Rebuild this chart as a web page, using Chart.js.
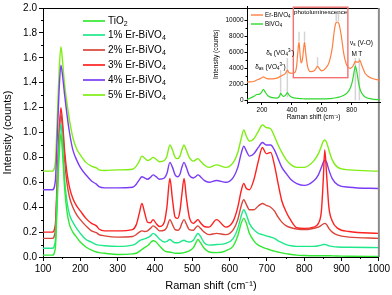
<!DOCTYPE html>
<html>
<head>
<meta charset="utf-8">
<script src="https://cdn.jsdelivr.net/npm/chart.js@4.4.0/dist/chart.umd.min.js"></script>
<style>
  body { margin: 0; background: #fff; }
  #wrap { position: relative; width: 392px; height: 295px; }
  #main { position: absolute; left: 0; top: 0; }
  #inset { position: absolute; left: 200px; top: 0; }
</style>
</head>
<body>
<div id="wrap">
  <canvas id="main" width="392" height="295"></canvas>
  <canvas id="inset" width="192" height="122"></canvas>
</div>
<script>
// ---- main plot data (Raman shift, cm-1) ----
const ramanShift = [100, 125, 133, 138, 143, 148, 153, 158, 164, 171, 180, 190, 200, 215, 230, 243, 250, 265, 300, 340,
  350, 358, 365, 372, 380, 388, 395, 403, 412, 425, 432, 440, 447, 454, 461, 467, 472, 478, 484, 492,
  503, 509, 515, 522, 532, 545, 565, 590, 610, 622, 631, 638, 645, 653, 665, 677, 688, 698, 710, 720,
  730, 740, 752, 765, 780, 800, 825, 838, 846, 851, 855, 860, 866, 875, 890, 920, 1000];

const tio2 = [0.015, 0.015, 0.07, 0.42, 0.80, 0.99, 0.80, 0.55, 0.37, 0.26, 0.20, 0.16, 0.12, 0.08, 0.055, 0.04, 0.035, 0.03, 0.02, 0.025,
  0.03, 0.045, 0.06, 0.075, 0.09, 0.115, 0.13, 0.12, 0.09, 0.05, 0.042, 0.04, 0.035, 0.03, 0.03, 0.03, 0.032, 0.035, 0.04, 0.05,
  0.075, 0.11, 0.14, 0.115, 0.07, 0.04, 0.035, 0.05, 0.09, 0.17, 0.27, 0.31, 0.27, 0.19, 0.13, 0.095, 0.08, 0.068, 0.055, 0.047,
  0.04, 0.033, 0.027, 0.02, 0.015, 0.012, 0.01, 0.01, 0.01, 0.01, 0.01, 0.01, 0.01, 0.009, 0.008, 0.006, 0.005];
const er1 = [0.07, 0.07, 0.13, 0.50, 0.88, 1.07, 0.88, 0.62, 0.45, 0.34, 0.28, 0.23, 0.19, 0.14, 0.12, 0.10, 0.095, 0.09, 0.085, 0.095,
  0.11, 0.13, 0.14, 0.145, 0.155, 0.17, 0.19, 0.175, 0.145, 0.12, 0.125, 0.14, 0.125, 0.115, 0.115, 0.12, 0.13, 0.135, 0.125, 0.12,
  0.135, 0.165, 0.19, 0.165, 0.115, 0.095, 0.10, 0.11, 0.15, 0.23, 0.33, 0.38, 0.34, 0.27, 0.22, 0.19, 0.18, 0.17, 0.16, 0.15,
  0.13, 0.115, 0.10, 0.09, 0.085, 0.085, 0.085, 0.09, 0.095, 0.10, 0.10, 0.098, 0.09, 0.085, 0.08, 0.078, 0.075];
const er2 = [0.15, 0.15, 0.21, 0.57, 0.95, 1.15, 1.00, 0.78, 0.60, 0.48, 0.40, 0.34, 0.30, 0.25, 0.21, 0.195, 0.18, 0.17, 0.16, 0.165,
  0.18, 0.20, 0.21, 0.205, 0.21, 0.23, 0.25, 0.235, 0.21, 0.215, 0.24, 0.30, 0.26, 0.22, 0.215, 0.23, 0.27, 0.30, 0.265, 0.22,
  0.215, 0.235, 0.25, 0.23, 0.20, 0.18, 0.19, 0.18, 0.22, 0.30, 0.41, 0.46, 0.42, 0.38, 0.38, 0.41, 0.43, 0.415, 0.40, 0.37,
  0.32, 0.28, 0.25, 0.235, 0.225, 0.22, 0.23, 0.24, 0.255, 0.265, 0.27, 0.26, 0.23, 0.20, 0.175, 0.16, 0.15];
const er3 = [0.20, 0.20, 0.26, 0.62, 1.00, 1.20, 1.06, 0.85, 0.68, 0.56, 0.47, 0.41, 0.37, 0.31, 0.27, 0.25, 0.225, 0.21, 0.21, 0.22,
  0.26, 0.35, 0.43, 0.36, 0.28, 0.275, 0.30, 0.27, 0.245, 0.28, 0.40, 0.63, 0.46, 0.32, 0.31, 0.37, 0.50, 0.63, 0.48, 0.32,
  0.27, 0.285, 0.30, 0.275, 0.245, 0.24, 0.30, 0.24, 0.29, 0.40, 0.53, 0.59, 0.55, 0.54, 0.62, 0.77, 0.88, 0.83, 0.84, 0.74,
  0.59, 0.45, 0.36, 0.29, 0.235, 0.23, 0.24, 0.27, 0.37, 0.62, 0.86, 0.66, 0.40, 0.29, 0.23, 0.205, 0.19];
const er4 = [0.54, 0.54, 0.61, 0.95, 1.33, 1.54, 1.44, 1.30, 1.15, 1.00, 0.86, 0.78, 0.72, 0.66, 0.61, 0.585, 0.565, 0.555, 0.555, 0.56,
  0.585, 0.62, 0.645, 0.635, 0.625, 0.64, 0.66, 0.645, 0.625, 0.635, 0.67, 0.76, 0.72, 0.66, 0.645, 0.665, 0.72, 0.76, 0.72, 0.655,
  0.635, 0.645, 0.66, 0.645, 0.615, 0.60, 0.615, 0.60, 0.64, 0.72, 0.83, 0.89, 0.85, 0.81, 0.83, 0.88, 0.92, 0.90, 0.90, 0.86,
  0.79, 0.72, 0.67, 0.62, 0.59, 0.575, 0.61, 0.66, 0.72, 0.76, 0.78, 0.76, 0.70, 0.63, 0.58, 0.56, 0.55];
const er5 = [0.69, 0.69, 0.76, 1.10, 1.48, 1.69, 1.55, 1.38, 1.24, 1.10, 0.96, 0.87, 0.82, 0.76, 0.73, 0.715, 0.70, 0.695, 0.70, 0.705,
  0.73, 0.77, 0.81, 0.795, 0.775, 0.785, 0.80, 0.785, 0.765, 0.775, 0.81, 0.90, 0.86, 0.80, 0.79, 0.81, 0.86, 0.90, 0.86, 0.80,
  0.77, 0.78, 0.79, 0.77, 0.74, 0.72, 0.74, 0.72, 0.76, 0.84, 0.95, 1.02, 0.97, 0.93, 0.95, 1.01, 1.06, 1.04, 1.03, 0.97,
  0.90, 0.84, 0.78, 0.74, 0.72, 0.72, 0.77, 0.83, 0.89, 0.93, 0.94, 0.92, 0.86, 0.78, 0.72, 0.70, 0.69];

const seriesLabels = ['TiO2', '1% Er-BiVO4', '2% Er-BiVO4', '3% Er-BiVO4', '4% Er-BiVO4', '5% Er-BiVO4'];
const seriesColors = ['#33e833', '#1fe88a', '#d9453a', '#ff2020', '#7b3cf5', '#7fee14'];
const xTicks = [100, 200, 300, 400, 500, 600, 700, 800, 900, 1000];
const yTicks = [0, 0.2, 0.4, 0.6, 0.8, 1.0, 1.2, 1.4, 1.6, 1.8, 2.0];

// ---- inset data ----
const insetShift = [100, 150, 165, 185, 200, 210, 220, 240, 270, 300, 318, 325, 333, 345, 360, 370, 380, 400, 420, 432,
  440, 448, 455, 462, 470, 478, 485, 493, 505, 525, 550, 565, 572, 580, 600, 625, 650, 670, 685, 695,
  705, 715, 730, 748, 770, 790, 805, 815, 825, 835, 845, 855, 868, 890, 930, 1000];
const erBivo4 = [2300, 2400, 2550, 2700, 2850, 2950, 2850, 2700, 2700, 2800, 2950, 3050, 3100, 3200, 3450, 3800, 3500, 3400, 3500, 4300,
  6000, 7300, 5800, 4700, 5000, 6300, 7300, 5900, 4300, 3600, 3700, 4100, 4300, 4100, 3700, 4000, 4800, 6500, 8800, 9700,
  9800, 9600, 8200, 5800, 4300, 4000, 4200, 4500, 4900, 4800, 4800, 5000, 4400, 3400, 2800, 2500];
const bivo4 = [100, 550, 750, 800, 1100, 1400, 1100, 600, 350, 300, 550, 900, 700, 500, 700, 1000, 700, 400, 300, 280,
  260, 250, 240, 230, 220, 220, 210, 200, 200, 200, 200, 200, 200, 200, 200, 200, 230, 270, 310, 340,
  380, 420, 500, 650, 950, 1500, 2400, 3400, 4300, 3600, 2400, 1500, 900, 450, 200, 100];
const insetLabels = ['Er-BiVO4', 'BiVO4'];
const insetColors = ['#ff7f40', '#2fd82f'];
const insetXTicks = [200, 400, 600, 800];
const insetYTicks = [0, 2000, 4000, 6000, 8000, 10000];
// grey peak markers: position, bottom, top
const markX = [325, 370, 448, 485, 572, 697, 712, 825, 852];
const markLo = [700, 400, 7400, 7400, 4400, 9900, 9900, 0, 0];
const markHi = [3800, 5300, 8600, 8600, 5400, 10900, 10900, 5300, 5300];
const plBox = [410, 775, 2850, 11650]; // x from, x to, y from, y to

const FAM = '"Liberation Sans", Arial, sans-serif';

// draws text with subscripts (1) / superscripts (2)
function rich(ctx, segs, x, y, size, align) {
  let w = 0;
  segs.forEach(([t, m]) => { ctx.font = (m ? size * 0.7 : size) + 'px ' + FAM; w += ctx.measureText(t).width; });
  let cx = align === 'center' ? x - w / 2 : x;
  ctx.textAlign = 'left';
  ctx.textBaseline = 'middle';
  segs.forEach(([t, m]) => {
    ctx.font = (m ? size * 0.7 : size) + 'px ' + FAM;
    const dy = m === 1 ? size * 0.3 : m === 2 ? -size * 0.35 : 0;
    ctx.fillText(t, cx, y + dy);
    cx += ctx.measureText(t).width;
  });
}
// digit right after a letter -> subscript
function chem(label) {
  const segs = [];
  for (let i = 0; i < label.length; i++) {
    const c = label[i];
    const sub = /[0-9]/.test(c) && i > 0 && /[A-Za-z]/.test(label[i - 1]);
    const m = sub ? 1 : 0;
    if (segs.length && segs[segs.length - 1][1] === m) segs[segs.length - 1][0] += c;
    else segs.push([c, m]);
  }
  return segs;
}

const mainFrame = {
  id: 'mainFrame',
  afterDraw(chart) {
    const ctx = chart.ctx, a = chart.chartArea;
    const xs = chart.scales.x, ys = chart.scales.y;
    ctx.save();
    ctx.strokeStyle = '#000';
    ctx.lineWidth = 1;
    ctx.beginPath();
    ctx.moveTo(a.left, a.top + 0.5); ctx.lineTo(a.right, a.top + 0.5);
    // minor ticks
    for (let v = 150; v < 1000; v += 100) {
      const px = Math.round(xs.getPixelForValue(v)) + 0.5;
      ctx.moveTo(px, a.bottom); ctx.lineTo(px, a.bottom + 2);
    }
    for (let v = 0.1; v < 2; v += 0.2) {
      const py = Math.round(ys.getPixelForValue(v)) + 0.5;
      ctx.moveTo(a.left, py); ctx.lineTo(a.left - 2, py);
    }
    ctx.stroke();
    ctx.strokeStyle = '#8a8a8a';
    ctx.lineWidth = 2;
    ctx.beginPath();
    ctx.moveTo(a.right, a.top); ctx.lineTo(a.right, a.bottom);
    ctx.stroke();
    // legend
    const rowY = [21, 35, 50, 65, 80, 95];
    ctx.fillStyle = '#000';
    seriesLabels.forEach((lab, i) => {
      ctx.strokeStyle = seriesColors[i];
      ctx.lineWidth = 1.7;
      ctx.beginPath();
      ctx.moveTo(83, rowY[i]); ctx.lineTo(105, rowY[i]);
      ctx.stroke();
      rich(ctx, chem(lab), 108, rowY[i], 10, 'left');
    });
    ctx.restore();
  }
};

new Chart(document.getElementById('main'), {
  type: 'line',
  data: {
    datasets: [tio2, er1, er2, er3, er4, er5].map((vals, i) => ({
      label: seriesLabels[i],
      data: ramanShift.map((x, j) => ({ x: x, y: vals[j] })),
      borderColor: seriesColors[i],
      borderWidth: 1.4,
      pointRadius: 0,
      cubicInterpolationMode: 'monotone',
      fill: false
    }))
  },
  options: {
    responsive: false,
    animation: false,
    layout: { padding: { top: 6, right: 12, left: 0, bottom: 0 } },
    plugins: { legend: { display: false }, tooltip: { enabled: false } },
    scales: {
      x: {
        type: 'linear', min: 100, max: 1000,
        afterBuildTicks: s => { s.ticks = xTicks.map(v => ({ value: v })); },
        afterFit: s => { s.height = 38; },
        grid: { drawOnChartArea: false, tickLength: 4, color: '#000' },
        border: { color: '#000', width: 1 },
        ticks: { color: '#000', font: { size: 10, family: FAM }, padding: 2, maxRotation: 0, callback: v => String(v) },
        title: { display: true, text: 'Raman shift (cm⁻¹)', color: '#000', font: { size: 11, family: FAM }, padding: { top: 0, bottom: 2 } }
      },
      y: {
        min: 0, max: 2,
        afterBuildTicks: s => { s.ticks = yTicks.map(v => ({ value: v })); },
        afterFit: s => { s.width = 43; },
        grid: { drawOnChartArea: false, tickLength: 4, color: '#000' },
        border: { color: '#000', width: 1 },
        ticks: { color: '#000', font: { size: 10, family: FAM }, padding: 2, callback: v => v.toFixed(1) },
        title: { display: true, text: 'Intensity (counts)', color: '#000', font: { size: 11, family: FAM }, padding: { top: 1, bottom: 0 } }
      }
    }
  },
  plugins: [mainFrame]
});

const insetDeco = {
  id: 'insetDeco',
  beforeDatasetsDraw(chart) {
    const ctx = chart.ctx;
    const xs = chart.scales.x, ys = chart.scales.y;
    ctx.save();
    ctx.strokeStyle = '#d4d4d4';
    ctx.lineWidth = 1.5;
    markX.forEach((v, i) => {
      const px = xs.getPixelForValue(v);
      ctx.beginPath();
      ctx.moveTo(px, ys.getPixelForValue(markLo[i]));
      ctx.lineTo(px, ys.getPixelForValue(markHi[i]));
      ctx.stroke();
    });
    ctx.restore();
  },
  afterDraw(chart) {
    const ctx = chart.ctx, a = chart.chartArea;
    const xs = chart.scales.x, ys = chart.scales.y;
    ctx.save();
    ctx.strokeStyle = '#000';
    ctx.lineWidth = 1;
    ctx.beginPath();
    for (let v = 100; v < 1000; v += 200) {
      const px = Math.round(xs.getPixelForValue(v)) + 0.5;
      ctx.moveTo(px, a.bottom); ctx.lineTo(px, a.bottom + 1.5);
    }
    for (let v = 1000; v < 11000; v += 2000) {
      const py = Math.round(ys.getPixelForValue(v)) + 0.5;
      ctx.moveTo(a.left, py); ctx.lineTo(a.left - 1.5, py);
    }
    ctx.stroke();
    // photoluminescence box
    const x0 = xs.getPixelForValue(plBox[0]), x1 = xs.getPixelForValue(plBox[1]);
    const y0 = ys.getPixelForValue(plBox[3]), y1 = ys.getPixelForValue(plBox[2]);
    ctx.strokeStyle = '#f07272';
    ctx.lineWidth = 1.4;
    ctx.strokeRect(x0, y0, x1 - x0, y1 - y0);
    ctx.fillStyle = '#000';
    rich(ctx, [['photoluminescence', 0]], (x0 + x1) / 2, y0 + 5, 6.2, 'center');
    // band labels
    rich(ctx, [['ν', 0], ['s', 1], [' (V-O)', 0]], xs.getPixelForValue(790), ys.getPixelForValue(7200), 6.5, 'left');
    rich(ctx, [['M', 0]], xs.getPixelForValue(818), ys.getPixelForValue(5800), 6.5, 'center');
    rich(ctx, [['T', 0]], xs.getPixelForValue(858), ys.getPixelForValue(5800), 6.5, 'center');
    rich(ctx, [['δ', 0], ['s', 1], [' (VO', 0], ['4', 1], ['3-', 2], [')', 0]], xs.getPixelForValue(228), ys.getPixelForValue(5900), 6.5, 'left');
    rich(ctx, [['δ', 0], ['as', 1], [' (VO', 0], ['4', 1], ['3-', 2], [')', 0]], xs.getPixelForValue(155), ys.getPixelForValue(4200), 6.5, 'left');
    // legend
    const rowY = [15, 24];
    insetLabels.forEach((lab, i) => {
      ctx.strokeStyle = insetColors[i];
      ctx.lineWidth = 1.4;
      ctx.beginPath();
      ctx.moveTo(a.left + 4, rowY[i]); ctx.lineTo(a.left + 16, rowY[i]);
      ctx.stroke();
      rich(ctx, chem(lab), a.left + 18, rowY[i], 6.3, 'left');
    });
    ctx.restore();
  }
};

new Chart(document.getElementById('inset'), {
  type: 'line',
  data: {
    datasets: [erBivo4, bivo4].map((vals, i) => ({
      label: insetLabels[i],
      data: insetShift.map((x, j) => ({ x: x, y: vals[j] })),
      borderColor: insetColors[i],
      borderWidth: 1.2,
      pointRadius: 0,
      cubicInterpolationMode: 'monotone',
      fill: false
    }))
  },
  options: {
    responsive: false,
    animation: false,
    layout: { padding: { top: 6, right: 12, left: 0, bottom: 0 } },
    plugins: { legend: { display: false }, tooltip: { enabled: false } },
    scales: {
      x: {
        type: 'linear', min: 100, max: 990,
        afterBuildTicks: s => { s.ticks = insetXTicks.map(v => ({ value: v })); },
        afterFit: s => { s.height = 19.5; },
        grid: { drawOnChartArea: false, tickLength: 2.5, color: '#000' },
        border: { color: '#000', width: 1 },
        ticks: { color: '#000', font: { size: 6.5, family: FAM }, padding: 1, maxRotation: 0, callback: v => String(v) },
        title: { display: true, text: 'Raman shift (cm⁻¹)', color: '#000', font: { size: 6.5, family: FAM }, padding: { top: 0, bottom: 1 } }
      },
      y: {
        min: -250, max: 11800,
        afterBuildTicks: s => { s.ticks = insetYTicks.map(v => ({ value: v })); },
        afterFit: s => { s.width = 47; },
        grid: { drawOnChartArea: false, tickLength: 2.5, color: '#000' },
        border: { color: '#000', width: 1 },
        ticks: { color: '#000', font: { size: 6.5, family: FAM }, padding: 1, callback: v => String(v) },
        title: { display: true, text: 'Intensity (counts)', color: '#000', font: { size: 6.5, family: FAM }, padding: { top: 12, bottom: 0 } }
      }
    }
  },
  plugins: [insetDeco]
});
</script>
</body>
</html>
